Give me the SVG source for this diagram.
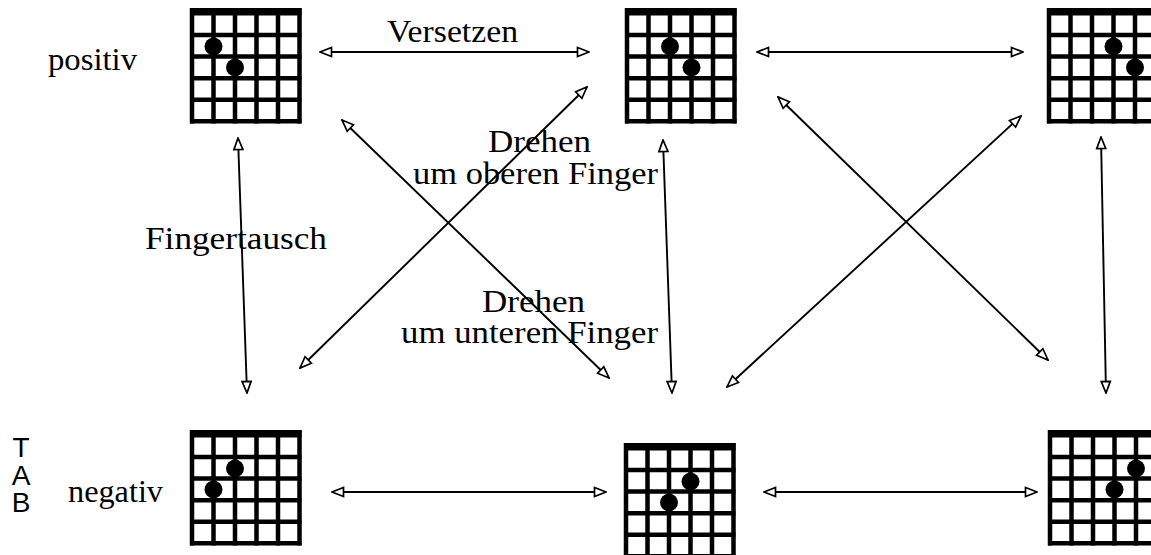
<svg xmlns="http://www.w3.org/2000/svg" xmlns:xlink="http://www.w3.org/1999/xlink" width="1151" height="555" viewBox="0 0 1151 555">
  <style>
    .lbl { font-family: "Liberation Serif", "Times New Roman", serif; font-size: 31px; fill: #000; }
    .tab { font-family: "Liberation Sans", Arial, sans-serif; font-size: 28px; fill: #000; text-anchor: middle; }
    .grid line { stroke: #000; stroke-width: 4.5; }
    .dot { fill: #000; }
    .conn line { stroke: #000; stroke-width: 1.9; fill: none; marker-start: url(#head); marker-end: url(#head); }
  </style>
  <defs>
    <!-- open triangular arrowhead, used at both ends of every connector -->
    <marker id="head" viewBox="0 0 14 12" refX="13" refY="6" markerWidth="14" markerHeight="12" markerUnits="userSpaceOnUse" orient="auto-start-reverse">
      <path d="M1.5,1.5 L13,6 L1.5,10.5 Z" fill="#fff" stroke="#000" stroke-width="1.7" stroke-linejoin="miter"/>
    </marker>
    <!-- chord box: 6 strings, nut bar on top, 5 frets -->
    <g id="fretboard" class="grid">
      <rect x="0" y="0" width="111.5" height="7.5" fill="#000"/>
      <line x1="2" y1="0" x2="2" y2="115.5"/>
      <line x1="23.5" y1="0" x2="23.5" y2="115.5"/>
      <line x1="45" y1="0" x2="45" y2="115.5"/>
      <line x1="66.5" y1="0" x2="66.5" y2="115.5"/>
      <line x1="88" y1="0" x2="88" y2="115.5"/>
      <line x1="109.5" y1="0" x2="109.5" y2="115.5"/>
      <line x1="0" y1="27" x2="111.5" y2="27"/>
      <line x1="0" y1="48.6" x2="111.5" y2="48.6"/>
      <line x1="0" y1="70.2" x2="111.5" y2="70.2"/>
      <line x1="0" y1="91.8" x2="111.5" y2="91.8"/>
      <line x1="0" y1="113.3" x2="111.5" y2="113.3"/>
    </g>
  </defs>

  <rect width="1151" height="555" fill="#fff"/>

  <!-- connectors -->
  <g id="connectors" class="conn">
    <line x1="320" y1="52" x2="589" y2="52"/>
    <line x1="757" y1="52" x2="1023" y2="52"/>
    <line x1="332" y1="492" x2="606" y2="492"/>
    <line x1="764" y1="492" x2="1037" y2="492"/>
    <line x1="238" y1="138" x2="247" y2="393"/>
    <line x1="663" y1="140" x2="672" y2="393"/>
    <line x1="1101" y1="137" x2="1106" y2="393"/>
    <line x1="342" y1="120" x2="609" y2="378"/>
    <line x1="587" y1="87" x2="300" y2="368"/>
    <line x1="778" y1="97" x2="1048" y2="360"/>
    <line x1="1021" y1="116" x2="727" y2="387"/>
  </g>

  <!-- chord shapes -->
  <g id="pos-1" transform="translate(190,8)">
    <use xlink:href="#fretboard" href="#fretboard"/>
    <circle class="dot" cx="23.5" cy="38.5" r="9"/>
    <circle class="dot" cx="45" cy="59.5" r="9"/>
  </g>
  <g id="pos-2" transform="translate(625,8)">
    <use xlink:href="#fretboard" href="#fretboard"/>
    <circle class="dot" cx="45" cy="38.5" r="9"/>
    <circle class="dot" cx="66.5" cy="59.5" r="9"/>
  </g>
  <g id="pos-3" transform="translate(1047,8)">
    <use xlink:href="#fretboard" href="#fretboard"/>
    <circle class="dot" cx="66.5" cy="38.5" r="9"/>
    <circle class="dot" cx="88" cy="59.5" r="9"/>
  </g>
  <g id="neg-1" transform="translate(190,430)">
    <use xlink:href="#fretboard" href="#fretboard"/>
    <circle class="dot" cx="45" cy="38.5" r="9"/>
    <circle class="dot" cx="23.5" cy="59.5" r="9"/>
  </g>
  <g id="neg-2" transform="translate(624,443)">
    <use xlink:href="#fretboard" href="#fretboard"/>
    <circle class="dot" cx="66.5" cy="38.5" r="9"/>
    <circle class="dot" cx="45" cy="59.5" r="9"/>
  </g>
  <g id="neg-3" transform="translate(1048,430)">
    <use xlink:href="#fretboard" href="#fretboard"/>
    <circle class="dot" cx="88" cy="38.5" r="9"/>
    <circle class="dot" cx="66.5" cy="59.5" r="9"/>
  </g>

  <!-- labels -->
  <g id="labels">
    <text class="lbl" x="48" y="70" textLength="89" lengthAdjust="spacingAndGlyphs">positiv</text>
    <text class="lbl" x="68" y="502" textLength="95" lengthAdjust="spacingAndGlyphs">negativ</text>
    <text class="lbl" x="387" y="42" textLength="131" lengthAdjust="spacingAndGlyphs">Versetzen</text>
    <text class="lbl" x="145" y="249" textLength="182" lengthAdjust="spacingAndGlyphs">Fingertausch</text>
    <text class="lbl" x="488" y="152" textLength="103" lengthAdjust="spacingAndGlyphs">Drehen</text>
    <text class="lbl" x="413" y="184" textLength="245" lengthAdjust="spacingAndGlyphs">um oberen Finger</text>
    <text class="lbl" x="482" y="312" textLength="103" lengthAdjust="spacingAndGlyphs">Drehen</text>
    <text class="lbl" x="401" y="343" textLength="257" lengthAdjust="spacingAndGlyphs">um unteren Finger</text>
    <text class="tab" x="21" y="457">T</text>
    <text class="tab" x="21" y="485">A</text>
    <text class="tab" x="21" y="512">B</text>
  </g>
</svg>
